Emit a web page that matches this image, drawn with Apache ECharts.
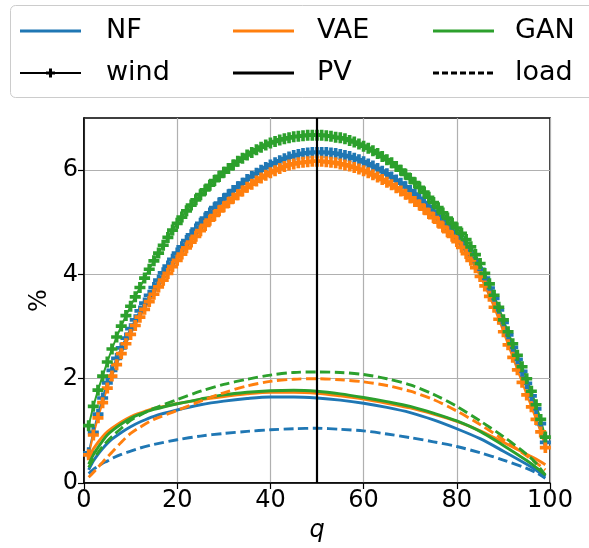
<!DOCTYPE html>
<html><head><meta charset="utf-8">
<script src="https://cdn.jsdelivr.net/npm/echarts@6/dist/echarts.min.js"></script>
<style>html,body{margin:0;padding:0;background:#fff}#c{width:589px;height:548px}</style>
</head><body><div id="c"></div>
<script>
// x positions of wind markers (q = 1..99)
const qWind = Array.from({length: 99}, (_, i) => i + 1);

const windNF = [
0.58,0.97,1.32,1.63,1.92,2.16,2.39,2.59,2.78,2.96,
3.13,3.30,3.45,3.60,3.75,3.89,4.03,4.16,4.29,4.41,
4.53,4.65,4.76,4.87,4.98,5.08,5.18,5.28,5.37,5.45,
5.53,5.61,5.68,5.75,5.82,5.88,5.94,6.00,6.05,6.10,
6.14,6.18,6.22,6.25,6.28,6.30,6.32,6.33,6.34,6.34,
6.34,6.34,6.33,6.32,6.30,6.28,6.26,6.23,6.20,6.16,
6.12,6.08,6.03,5.98,5.93,5.87,5.81,5.75,5.68,5.61,
5.54,5.46,5.38,5.30,5.21,5.12,5.03,4.93,4.83,4.73,
4.63,4.51,4.39,4.25,4.10,3.93,3.74,3.54,3.32,3.08,
2.84,2.60,2.37,2.14,1.91,1.67,1.42,1.14,0.78];

const windVAE = [
0.54,0.92,1.25,1.54,1.82,2.05,2.27,2.48,2.67,2.85,
3.02,3.18,3.33,3.48,3.62,3.76,3.89,4.02,4.15,4.27,
4.39,4.51,4.62,4.73,4.84,4.94,5.04,5.13,5.22,5.30,
5.38,5.46,5.53,5.60,5.67,5.73,5.79,5.85,5.90,5.95,
5.99,6.03,6.07,6.10,6.12,6.14,6.15,6.16,6.17,6.17,
6.17,6.16,6.15,6.14,6.12,6.10,6.08,6.05,6.02,5.99,
5.95,5.91,5.87,5.82,5.77,5.72,5.66,5.60,5.54,5.47,
5.40,5.33,5.25,5.17,5.09,5.00,4.91,4.82,4.73,4.63,
4.52,4.40,4.27,4.13,3.96,3.78,3.58,3.37,3.14,2.90,
2.65,2.41,2.17,1.93,1.69,1.46,1.22,0.98,0.68];

const windGAN = [
1.10,1.47,1.78,2.05,2.32,2.57,2.80,3.01,3.21,3.39,
3.57,3.75,3.93,4.10,4.26,4.41,4.56,4.71,4.85,4.98,
5.10,5.22,5.33,5.43,5.53,5.62,5.71,5.80,5.88,5.96,
6.03,6.10,6.17,6.23,6.29,6.34,6.39,6.44,6.48,6.52,
6.55,6.58,6.60,6.62,6.64,6.65,6.66,6.67,6.67,6.67,
6.67,6.66,6.65,6.63,6.62,6.60,6.57,6.54,6.50,6.46,
6.42,6.37,6.32,6.26,6.20,6.14,6.07,6.00,5.92,5.84,
5.76,5.67,5.58,5.48,5.38,5.28,5.18,5.08,4.98,4.89,
4.79,4.67,4.53,4.38,4.21,4.02,3.82,3.60,3.37,3.13,
2.90,2.67,2.45,2.23,2.00,1.76,1.50,1.22,0.88];

// sampled q positions for PV and load curves
const qLine   = [1,2,3,4,5,6,8,10,12,15,20,25,30,35,40,45,50,55,60,65,70,75,80,85,90,95,97,99];
const pvNF    = [0.25,0.42,0.55,0.66,0.76,0.84,0.97,1.08,1.17,1.28,1.40,1.50,1.57,1.62,1.65,1.65,1.63,1.59,1.53,1.45,1.35,1.21,1.04,0.85,0.61,0.36,0.25,0.12];
const pvVAE   = [0.48,0.65,0.78,0.89,0.98,1.05,1.17,1.27,1.34,1.43,1.52,1.60,1.66,1.71,1.74,1.74,1.72,1.67,1.61,1.53,1.44,1.32,1.18,1.00,0.78,0.55,0.46,0.35];
const pvGAN   = [0.36,0.54,0.68,0.81,0.92,1.00,1.13,1.24,1.32,1.41,1.52,1.61,1.69,1.74,1.77,1.78,1.76,1.71,1.64,1.56,1.47,1.34,1.19,0.99,0.72,0.43,0.30,0.15];
const loadNF  = [0.18,0.26,0.32,0.38,0.42,0.47,0.55,0.61,0.67,0.74,0.83,0.90,0.95,0.99,1.02,1.04,1.05,1.03,1.00,0.94,0.87,0.79,0.70,0.58,0.44,0.28,0.20,0.09];
const loadVAE = [0.11,0.20,0.30,0.40,0.50,0.59,0.78,0.95,1.07,1.22,1.39,1.57,1.73,1.86,1.95,1.99,2.00,1.98,1.94,1.87,1.76,1.60,1.38,1.12,0.83,0.52,0.39,0.25];
const loadGAN = [0.30,0.45,0.58,0.70,0.80,0.89,1.05,1.20,1.30,1.43,1.60,1.76,1.89,1.99,2.07,2.12,2.13,2.12,2.08,2.00,1.88,1.70,1.47,1.19,0.89,0.55,0.38,0.15];

const xTicks = [0,20,40,60,80,100];
const yTicks = [0,2,4,6];
const vLineAt = 50;

const C = {NF:'#1f77b4', VAE:'#ff7f0e', GAN:'#2ca02c'};
const FONT = 'DejaVu Sans';
const PLUS = 'path://M1,0H2V1H3V2H2V3H1V2H0V1H1Z';
const DASH = [10, 4.5];
const LW = 2.9;

function pairs(xs, ys){ return xs.map((x,i)=>[x, ys[i]]); }

function windSeries(name, ys, color){
  return {type:'line', name, data: pairs(qWind, ys), symbol: PLUS, symbolSize: 11,
    showSymbol: true, showAllSymbol: true, lineStyle:{color, width:2}, itemStyle:{color}, animation:false, z:2};
}
function lineSeries(name, ys, color, dashed){
  return {type:'line', name, data: pairs(qLine, ys), smooth: 0.3, symbol:'none',
    lineStyle:{color, width:LW, type: dashed ? DASH : 'solid'}, animation:false, z:3};
}

function plusPoints(cx, cy, h, a){
  return [[cx-a,cy-h],[cx+a,cy-h],[cx+a,cy-a],[cx+h,cy-a],[cx+h,cy+a],[cx+a,cy+a],
          [cx+a,cy+h],[cx-a,cy+h],[cx-a,cy+a],[cx-h,cy+a],[cx-h,cy-a],[cx-a,cy-a]];
}

const chart = echarts.init(document.getElementById('c'), null, {renderer:'canvas'});

const legendItems = [];
const cols = [{lx:20, tx:106}, {lx:233, tx:317}, {lx:433, tx:515}];
const rows = [31, 73];
const legendDefs = [
  {t:'NF', color:C.NF, kind:'solid'}, {t:'VAE', color:C.VAE, kind:'solid'}, {t:'GAN', color:C.GAN, kind:'solid'},
  {t:'wind', color:'#000', kind:'marker'}, {t:'PV', color:'#000', kind:'solid'}, {t:'load', color:'#000', kind:'dashed'}
];
legendItems.push({type:'rect', shape:{x:10.5, y:5.5, width:620, height:92, r:5},
  style:{fill:'#fff', stroke:'#cccccc', lineWidth:1}, z:10});
legendDefs.forEach((d, i) => {
  const c = cols[i % 3], y = rows[Math.floor(i / 3)];
  const st = {stroke:d.color, lineWidth: d.kind==='marker' ? 2 : LW};
  if (d.kind === 'dashed') st.lineDash = [6, 3];
  legendItems.push({type:'line', shape:{x1:c.lx, y1:y, x2:c.lx+61, y2:y}, style:st, z:11});
  if (d.kind === 'marker') {
    legendItems.push({type:'polygon', shape:{points: plusPoints(c.lx+30.5, y, 4.5, 1.5)},
      style:{fill:'#000'}, z:12});
  }
  legendItems.push({type:'text', x:c.tx, y:y, style:{text:d.t, fontFamily:FONT, fontSize:27, fill:'#000',
    verticalAlign:'middle', align:'left'}, z:11});
});

chart.setOption({
  backgroundColor:'#fff',
  animation:false,
  grid:{left:84, right:39, top:118, bottom:64, show:true, borderColor:'#000', borderWidth:1.5, backgroundColor:'transparent'},
  xAxis:{type:'value', min:0, max:100, interval:20,
    name:'q', nameLocation:'middle', nameGap:36,
    nameTextStyle:{fontFamily:FONT, fontSize:24, fontStyle:'italic', color:'#000'},
    axisLine:{show:true, lineStyle:{color:'#000', width:1.5}},
    axisTick:{show:true, inside:false, length:6, lineStyle:{color:'#000', width:1.2}},
    axisLabel:{fontFamily:FONT, fontSize:24, color:'#000', margin:6},
    splitLine:{show:true, lineStyle:{color:'#b0b0b0', width:1.2}}},
  yAxis:{type:'value', min:0, max:7, interval:2,
    name:'%', nameLocation:'middle', nameGap:32, nameRotate:90,
    nameTextStyle:{fontFamily:FONT, fontSize:24, color:'#000'},
    axisLine:{show:true, lineStyle:{color:'#000', width:1.5}},
    axisTick:{show:true, inside:false, length:6, customValues: yTicks, lineStyle:{color:'#000', width:1.2}},
    axisLabel:{fontFamily:FONT, fontSize:24, color:'#000', margin:6, customValues: yTicks},
    splitLine:{show:true, lineStyle:{color:'#b0b0b0', width:1.2}}},
  series:[
    windSeries('wind NF', windNF, C.NF),
    windSeries('wind VAE', windVAE, C.VAE),
    windSeries('wind GAN', windGAN, C.GAN),
    lineSeries('PV NF', pvNF, C.NF, false),
    lineSeries('PV VAE', pvVAE, C.VAE, false),
    lineSeries('PV GAN', pvGAN, C.GAN, false),
    lineSeries('load NF', loadNF, C.NF, true),
    lineSeries('load VAE', loadVAE, C.VAE, true),
    lineSeries('load GAN', loadGAN, C.GAN, true),
    {type:'line', data:[], z:5, markLine:{silent:true, symbol:['none','none'], label:{show:false},
      lineStyle:{color:'#000', width:2.2, type:'solid'}, data:[{xAxis:vLineAt}], animation:false}}
  ],
  graphic: legendItems
});
</script>
</body></html>
